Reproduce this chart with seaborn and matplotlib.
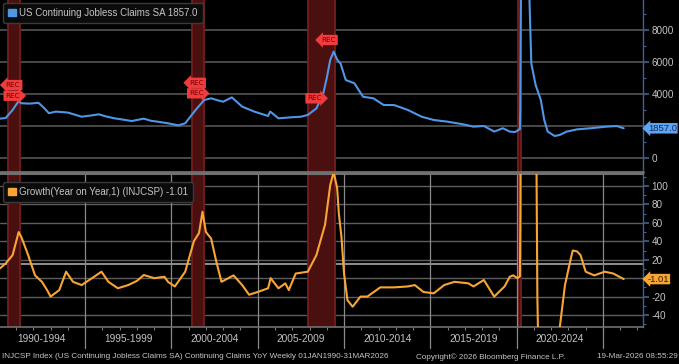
import matplotlib
matplotlib.use("Agg")
import matplotlib.pyplot as plt
import seaborn as sns
import pandas as pd
from matplotlib.patches import Patch
from matplotlib.ticker import MultipleLocator, FixedLocator, FixedFormatter, NullFormatter
from matplotlib.transforms import blended_transform_factory

# ---------------- data ----------------
level_years = [1990.07, 1990.4, 1990.8, 1991.15, 1991.3, 1991.8, 1992.3, 1992.6, 1992.9, 1993.3,
               1994.0, 1994.8, 1995.3, 1995.8, 1996.2, 1996.7, 1997.2, 1997.7, 1998.4, 1998.8,
               1999.2, 1999.8, 2000.4, 2000.8, 2001.4, 2001.9, 2002.3, 2002.7, 2003.0, 2003.5,
               2004.1, 2004.8, 2005.6, 2005.72, 2005.9, 2006.2, 2006.9, 2007.5, 2007.9, 2008.4,
               2008.8, 2009.0, 2009.2, 2009.4, 2009.6, 2009.8, 2010.1, 2010.6, 2011.1, 2011.7,
               2012.3, 2012.9, 2013.7, 2014.5, 2015.2, 2016.0, 2016.8, 2017.5, 2018.1, 2018.7,
               2019.2, 2019.6, 2019.9, 2020.15, 2020.19, 2020.21, 2020.23, 2020.26, 2020.3, 2020.37,
               2020.5, 2020.6, 2020.7, 2020.78, 2020.85, 2021.1, 2021.4, 2021.6, 2021.8, 2022.2,
               2022.5, 2022.9, 2023.5, 2024.3, 2025.2, 2025.8, 2026.2]
level_values = [2460, 2500, 3000, 3560, 3420, 3400, 3450, 3150, 2800, 2900,
                2840, 2580, 2650, 2730, 2600, 2480, 2400, 2310, 2460, 2330,
                2270, 2170, 2040, 2170, 3000, 3625, 3730, 3600, 3520, 3790,
                3210, 2900, 2625, 2900, 2750, 2480, 2540, 2580, 2690, 3100,
                4040, 5000, 6125, 6650, 6150, 5900, 4875, 4670, 3830, 3730,
                3310, 3310, 3000, 2580, 2375, 2270, 2125, 1960, 2000, 1650,
                1860, 1650, 1620, 1780, 1800, 3060, 7400, 11900, 18000, 22800,
                17500, 14500, 11500, 8500, 5900, 4560, 3625, 2375, 1650, 1375,
                1440, 1650, 1790, 1860, 1960, 2000, 1857.0]

yoy_years = [1990.07, 1990.4, 1990.8, 1991.15, 1991.3, 1991.7, 1992.1, 1992.5, 1992.8, 1993.0,
             1993.5, 1993.9, 1994.3, 1994.8, 1995.4, 1995.95, 1996.35, 1996.9, 1997.5, 1998.0,
             1998.4, 1999.0, 1999.6, 1999.8, 2000.2, 2000.8, 2001.3, 2001.6, 2001.8, 2002.0,
             2002.3, 2002.6, 2002.9, 2003.6, 2004.1, 2004.5, 2005.0, 2005.6, 2005.75, 2006.2,
             2006.6, 2006.8, 2007.2, 2007.9, 2008.4, 2008.9, 2009.2, 2009.4, 2009.6, 2009.7,
             2009.85, 2010.0, 2010.2, 2010.5, 2010.95, 2011.35, 2012.1, 2012.9, 2013.7, 2014.1,
             2014.6, 2015.2, 2015.8, 2016.4, 2017.2, 2017.5, 2018.1, 2018.7, 2019.3, 2019.6,
             2019.8, 2020.05, 2020.19, 2020.22, 2020.25, 2020.3, 2020.4, 2020.6, 2020.8, 2021.0,
             2021.15, 2021.2, 2021.25, 2021.5, 2021.9, 2022.2, 2022.5, 2022.8, 2023.1, 2023.25,
             2023.5, 2023.7, 2024.0, 2024.5, 2025.1, 2025.6, 2026.2]
yoy_values = [10.6, 16, 25, 50, 45, 25, 3, -4, -13, -20,
              -13, 7, -4, -7.5, 0, 7, -4, -11, -7.5, -3,
              3.4, 0, 1.5, -4, -9, 7, 40, 49, 72, 50,
              43, 18, -4, 3, -7.5, -18, -15, -11, 0, -11,
              -5.6, -13, 5, 7, 25, 58, 101, 115, 98, 70,
              45, 5, -24, -31, -20, -20, -10, -10, -9, -7.5,
              -15, -16.5, -7.5, -4, -5.6, -9, -2, -20, -9, 1.5,
              3, 0, 2, 80, 550, 900, 1200, 900, 350, 170,
              120, -20, -70, -85, -75, -65, -53, -7.5, 18, 30,
              29, 25, 7, 3, 7, 5, -1.01]

recession_starts = [1990.54, 2001.17, 2007.92, 2020.1]
recession_ends = [1991.21, 2001.87, 2009.46, 2020.27]

rec_marker_years = [1990.82, 1990.82, 2001.45, 2001.45, 2008.31, 2009.09]
rec_marker_values = [4560, 3890, 4700, 4040, 3730, 7375]
rec_marker_styles = ['larrow', 'rarrow', 'larrow', 'rarrow', 'rarrow', 'larrow']

period_labels = ['1990-1994', '1995-1999', '2000-2004', '2005-2009',
                 '2010-2014', '2015-2019', '2020-2024']
period_bounds = [1995, 2000, 2005, 2010, 2015, 2020, 2025]
level_ticks = [0, 2000, 4000, 6000, 8000]
yoy_ticks = [-40, -20, 0, 20, 40, 60, 80, 100]

level_name = 'US Continuing Jobless Claims SA'
yoy_name = 'Growth(Year on Year,1) (INJCSP)'
footer_left = 'INJCSP Index (US Continuing Jobless Claims SA) Continuing Claims YoY Weekly 01JAN1990-31MAR2026'
footer_mid = 'Copyright\u00a9 2026 Bloomberg Finance L.P.'
footer_right = '19-Mar-2026 08:55:29'

# ---------------- style ----------------
BLUE = '#4f96e6'
ORANGE = '#f8a534'
TXT = '#c4c4c4'
GRID = '#5c5c5c'
VGRID = '#8a8a8a'
AXC = '#3f6290'
BAND = '#4a0f0f'
BAND_EDGE = '#6e1c1c'

sns.set_style('dark', {'axes.facecolor': 'black', 'figure.facecolor': 'black',
                       'axes.edgecolor': GRID, 'grid.color': GRID})
plt.rcParams['font.family'] = ['Liberation Sans', 'DejaVu Sans']

W, H = 679, 364
fig = plt.figure(figsize=(W / 100, H / 100), dpi=100, facecolor='black')
axw = 643 / W
ax1 = fig.add_axes([0, 1 - 172 / H, axw, 172 / H])
ax2 = fig.add_axes([0, 1 - 327 / H, axw, 153 / H])

df_level = pd.DataFrame({'year': level_years, 'value': level_values})
df_yoy = pd.DataFrame({'year': yoy_years, 'value': yoy_values})

xlim = (1990.07, 2027.32)

for ax in (ax1, ax2):
    ax.set_facecolor('black')
    for s, e in zip(recession_starts, recession_ends):
        ax.axvspan(s, e, color=BAND, lw=0, zorder=0.5)
        ax.axvline(s, color=BAND_EDGE, lw=1.4, zorder=0.6)
        ax.axvline(e, color=BAND_EDGE, lw=1.4, zorder=0.6)
    ax.set_xlim(*xlim)
    for sp in ('left', 'top', 'bottom'):
        ax.spines[sp].set_visible(False)
    ax.spines['right'].set_color(AXC)
    ax.spines['right'].set_linewidth(1.0)
    ax.yaxis.tick_right()
    ax.tick_params(axis='y', which='major', direction='out', length=4, width=1.2,
                   color=AXC, labelcolor=TXT, labelsize=7.2, pad=2)
    ax.tick_params(axis='y', which='minor', direction='out', length=2, width=0.8, color=AXC)
    ax.set_xlabel('')
    ax.set_ylabel('')

# ---- top panel ----
ax1.set_ylim(-875, 9875)
ax1.yaxis.set_major_locator(FixedLocator(level_ticks))
ax1.yaxis.set_major_formatter(FixedFormatter(['0', '', '4000', '6000', '8000']))
ax1.yaxis.set_minor_locator(MultipleLocator(1000))
for t in level_ticks:
    ax1.axhline(t, color=GRID, lw=1.1, zorder=0.4)
ax1.set_xticks([])
sns.lineplot(data=df_level, x='year', y='value', ax=ax1, color=BLUE, lw=1.5,
             zorder=3, legend=False)
ax1.set_xlabel('')
ax1.set_ylabel('')
ax1.axhline(-875, color='#707070', lw=2.0, zorder=5, clip_on=False)

for xv, yv, st in zip(rec_marker_years, rec_marker_values, rec_marker_styles):
    ax1.text(xv, yv, 'REC', fontsize=5.2, color='#7a0000', ha='center', va='center',
             zorder=6, family='DejaVu Sans',
             bbox=dict(boxstyle=f'{st},pad=0.3', fc='#f03c3c', ec='none'))

ax1.legend(handles=[Patch(color=BLUE, label=f'{level_name} {level_values[-1]:.1f}')],
           loc='upper left', bbox_to_anchor=(0.002, 0.995), frameon=True,
           facecolor='#0b0b0b', edgecolor='#3a3a3a', framealpha=1, fontsize=7.0,
           handlelength=0.8, handleheight=0.8, handletextpad=0.35,
           borderpad=0.5, labelcolor=TXT, borderaxespad=0.2)

ax1.annotate(f'{level_values[-1]:.1f}', xy=(1.0, level_values[-1]),
             xycoords=('axes fraction', 'data'), xytext=(3.5, 0), textcoords='offset points',
             ha='left', va='center', fontsize=6.8, color='#0d2c5c',
             bbox=dict(boxstyle='larrow,pad=0.08', fc='#5ea4f2', ec='none'),
             annotation_clip=False, zorder=10)

# ---- bottom panel ----
ax2.set_ylim(-53, 113)
ax2.yaxis.set_major_locator(FixedLocator(yoy_ticks))
ax2.yaxis.set_major_formatter(FixedFormatter(['-40', '-20', '', '20', '40', '60', '80', '100']))
ax2.yaxis.set_minor_locator(MultipleLocator(10))
for t in yoy_ticks:
    ax2.axhline(t, color=GRID, lw=1.0, zorder=0.4)
ax2.axhline(15.5, color='#9a9a9a', lw=1.3, zorder=0.45)

sns.lineplot(data=df_yoy, x='year', y='value', ax=ax2, color=ORANGE, lw=1.5,
             zorder=3, legend=False)
ax2.set_xlabel('')
ax2.set_ylabel('')
ax2.spines['bottom'].set_visible(True)
ax2.spines['bottom'].set_color('#707070')
ax2.spines['bottom'].set_linewidth(1.2)
ax2.spines['top'].set_visible(True)
ax2.spines['top'].set_color('#707070')
ax2.spines['top'].set_linewidth(1.5)

trans = blended_transform_factory(ax2.transData, ax2.transAxes)
for b in period_bounds:
    ax2.plot([b, b], [1.0, -21 / 153], transform=trans, color=VGRID, lw=0.9,
             clip_on=False, zorder=1)

ax2.xaxis.set_major_locator(MultipleLocator(1))
ax2.xaxis.set_major_formatter(NullFormatter())
mids = [b - 2.5 for b in period_bounds]
ax2.xaxis.set_minor_locator(FixedLocator(mids))
ax2.xaxis.set_minor_formatter(FixedFormatter(period_labels))
ax2.tick_params(axis='x', which='major', direction='out', length=2.5, width=0.8,
                color='#7a7a7a', bottom=True)
ax2.tick_params(axis='x', which='minor', length=0, labelcolor=TXT, labelsize=7.3,
                pad=5, bottom=True)

ax2.legend(handles=[Patch(color=ORANGE, label=f'{yoy_name} {yoy_values[-1]:.2f}')],
           loc='upper left', bbox_to_anchor=(0.002, 0.96), frameon=True,
           facecolor='#0b0b0b', edgecolor='#3a3a3a', framealpha=1, fontsize=7.0,
           handlelength=0.8, handleheight=0.8, handletextpad=0.35,
           borderpad=0.5, labelcolor=TXT, borderaxespad=0.2)

ax2.annotate(f'{yoy_values[-1]:.2f}', xy=(1.0, yoy_values[-1]),
             xycoords=('axes fraction', 'data'), xytext=(3.5, 0), textcoords='offset points',
             ha='left', va='center', fontsize=6.8, color='#3a1c00',
             bbox=dict(boxstyle='larrow,pad=0.08', fc='#f7a534', ec='none'),
             annotation_clip=False, zorder=10)

# ---- footer ----
fy = 1 - 357 / H
fig.text(2 / W, fy, footer_left, fontsize=5.9, color=TXT, ha='left', va='center')
fig.text(491 / W, fy, footer_mid, fontsize=5.9, color=TXT, ha='center', va='center')
fig.text(678 / W, fy, footer_right, fontsize=5.9, color=TXT, ha='right', va='center')

fig.savefig('out.png', dpi=100, facecolor='black')
